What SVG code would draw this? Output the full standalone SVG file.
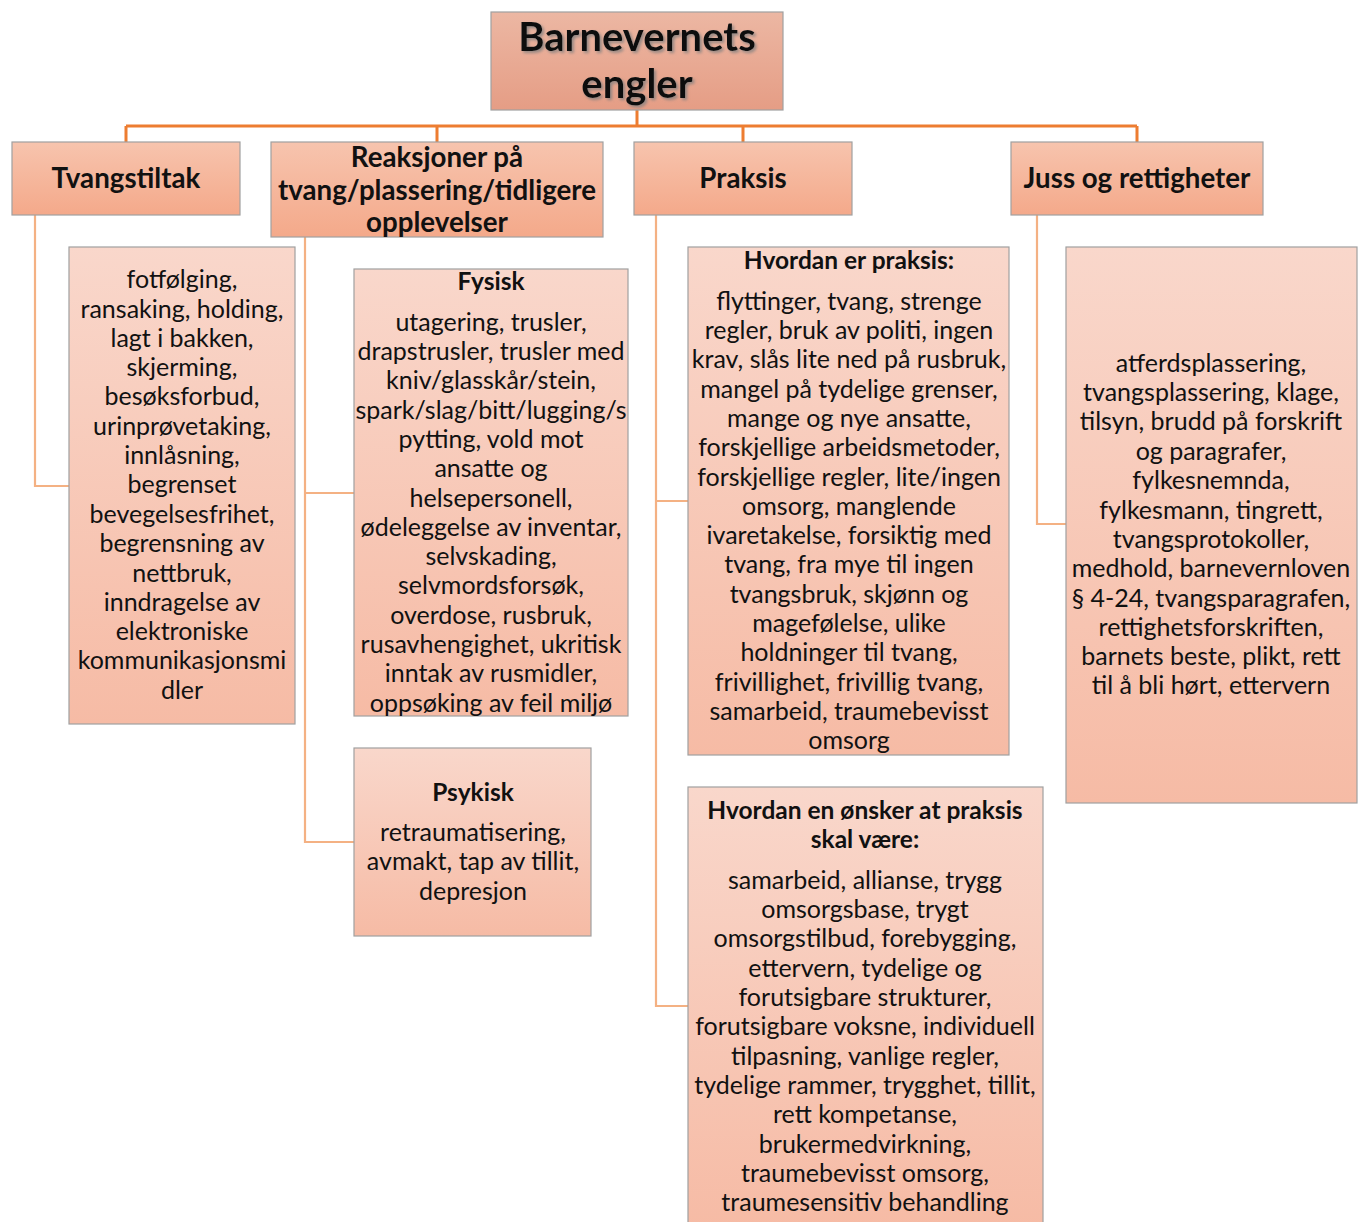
<svg xmlns="http://www.w3.org/2000/svg" width="1367" height="1222" viewBox="0 0 1367 1222">
<defs>
<linearGradient id="gRoot" x1="0" y1="0" x2="0" y2="1"><stop offset="0" stop-color="#ECB7A3"/><stop offset="1" stop-color="#E59D85"/></linearGradient>
<linearGradient id="gL1" x1="0" y1="0" x2="0" y2="1"><stop offset="0" stop-color="#F7C4AE"/><stop offset="1" stop-color="#F4A98A"/></linearGradient>
<linearGradient id="gL2" x1="0" y1="0" x2="0" y2="1"><stop offset="0" stop-color="#F9D7CB"/><stop offset="1" stop-color="#F6BBA5"/></linearGradient>
<filter id="tshadow" x="-10%" y="-20%" width="120%" height="150%"><feDropShadow dx="2" dy="2" stdDeviation="1.5" flood-color="#7f7f7f" flood-opacity="0.8"/></filter>
</defs>
<style>
text{font-family:Lato,"Open Sans","Liberation Sans",sans-serif;fill:#111;text-anchor:middle}
.box{stroke:#A0A0A0;stroke-width:1.2}
.root{fill:url(#gRoot)}
.l1{fill:url(#gL1)}
.l2{fill:url(#gL2)}
.tt{font-weight:bold;font-size:40px}
.h1{font-weight:bold;font-size:27.7px}
.h2{font-weight:bold;font-size:24.5px}
.b{font-size:25px}
.main{stroke:#ED7D31;stroke-width:3;fill:none}
.sub{stroke:#F4B183;stroke-width:2.2;fill:none}
</style>
<rect width="1367" height="1222" fill="#fff"/>
<g id="connectors">
<path class="main" d="M637 110V126M126 126H1137M126 126V142M437 126V142M743 126V142M1137 126V142"/>
<path class="sub" d="M35 215V486H69"/>
<path class="sub" d="M305 237V842H354M305 493H354"/>
<path class="sub" d="M656 215V1006H688M656 501H688"/>
<path class="sub" d="M1037 215V524H1066"/>
</g>
<g id="root">
<rect class="box root" x="491" y="12" width="292" height="98"/>
<g filter="url(#tshadow)">
<text class="tt" x="637" y="51">Barnevernets</text>
<text class="tt" x="637" y="98">engler</text>
</g>
</g>
<g id="tvangstiltak">
<rect class="box l1" x="12" y="142" width="228" height="73"/>
<text class="h1" x="126" y="188">Tvangstiltak</text>
</g>
<g id="reaksjoner">
<rect class="box l1" x="271" y="142" width="332" height="95"/>
<text class="h1" x="437" y="167">Reaksjoner på</text>
<text class="h1" x="437" y="200">tvang/plassering/tidligere</text>
<text class="h1" x="437" y="232">opplevelser</text>
</g>
<g id="praksis">
<rect class="box l1" x="634" y="142" width="218" height="73"/>
<text class="h1" x="743" y="188">Praksis</text>
</g>
<g id="juss">
<rect class="box l1" x="1011" y="142" width="252" height="73"/>
<text class="h1" x="1137" y="188">Juss og rettigheter</text>
</g>
<g id="tvang-liste">
<rect class="box l2" x="69" y="247" width="226" height="477"/>
<text class="b" x="182" y="288">fotfølging,</text>
<text class="b" x="182" y="318">ransaking, holding,</text>
<text class="b" x="182" y="347">lagt i bakken,</text>
<text class="b" x="182" y="376">skjerming,</text>
<text class="b" x="182" y="405">besøksforbud,</text>
<text class="b" x="182" y="435">urinprøvetaking,</text>
<text class="b" x="182" y="464">innlåsning,</text>
<text class="b" x="182" y="493">begrenset</text>
<text class="b" x="182" y="523">bevegelsesfrihet,</text>
<text class="b" x="182" y="552">begrensning av</text>
<text class="b" x="182" y="582">nettbruk,</text>
<text class="b" x="182" y="611">inndragelse av</text>
<text class="b" x="182" y="640">elektroniske</text>
<text class="b" x="182" y="669">kommunikasjonsmi</text>
<text class="b" x="182" y="699">dler</text>
</g>
<g id="fysisk">
<rect class="box l2" x="354" y="269" width="274" height="447"/>
<text class="h2" x="491" y="290">Fysisk</text>
<text class="b" x="491" y="331">utagering, trusler,</text>
<text class="b" x="491" y="360">drapstrusler, trusler med</text>
<text class="b" x="491" y="389">kniv/glasskår/stein,</text>
<text class="b" x="491" y="419">spark/slag/bitt/lugging/s</text>
<text class="b" x="491" y="448">pytting, vold mot</text>
<text class="b" x="491" y="477">ansatte og</text>
<text class="b" x="491" y="507">helsepersonell,</text>
<text class="b" x="491" y="536">ødeleggelse av inventar,</text>
<text class="b" x="491" y="565">selvskading,</text>
<text class="b" x="491" y="594">selvmordsforsøk,</text>
<text class="b" x="491" y="624">overdose, rusbruk,</text>
<text class="b" x="491" y="653">rusavhengighet, ukritisk</text>
<text class="b" x="491" y="682">inntak av rusmidler,</text>
<text class="b" x="491" y="712">oppsøking av feil miljø</text>
</g>
<g id="psykisk">
<rect class="box l2" x="354" y="748" width="237" height="188"/>
<text class="h2" x="473" y="801">Psykisk</text>
<text class="b" x="473" y="841">retraumatisering,</text>
<text class="b" x="473" y="870">avmakt, tap av  tillit,</text>
<text class="b" x="473" y="900">depresjon</text>
</g>
<g id="praksis-er">
<rect class="box l2" x="688" y="247" width="321" height="508"/>
<text class="h2" x="849" y="269">Hvordan er praksis:</text>
<text class="b" x="849" y="310">flyttinger, tvang, strenge</text>
<text class="b" x="849" y="339">regler, bruk av politi, ingen</text>
<text class="b" x="849" y="368">krav, slås lite ned på rusbruk,</text>
<text class="b" x="849" y="398">mangel på tydelige grenser,</text>
<text class="b" x="849" y="427">mange og nye ansatte,</text>
<text class="b" x="849" y="456">forskjellige arbeidsmetoder,</text>
<text class="b" x="849" y="486">forskjellige regler, lite/ingen</text>
<text class="b" x="849" y="515">omsorg, manglende</text>
<text class="b" x="849" y="544">ivaretakelse, forsiktig med</text>
<text class="b" x="849" y="573">tvang, fra mye til ingen</text>
<text class="b" x="849" y="603">tvangsbruk, skjønn og</text>
<text class="b" x="849" y="632">magefølelse, ulike</text>
<text class="b" x="849" y="661">holdninger til tvang,</text>
<text class="b" x="849" y="691">frivillighet, frivillig tvang,</text>
<text class="b" x="849" y="720">samarbeid, traumebevisst</text>
<text class="b" x="849" y="749">omsorg</text>
</g>
<g id="praksis-onsket">
<rect class="box l2" x="688" y="787" width="355" height="440"/>
<text class="h2" x="865" y="819">Hvordan en ønsker at praksis</text>
<text class="h2" x="865" y="848">skal være:</text>
<text class="b" x="865" y="889">samarbeid, allianse, trygg</text>
<text class="b" x="865" y="918">omsorgsbase, trygt</text>
<text class="b" x="865" y="947">omsorgstilbud, forebygging,</text>
<text class="b" x="865" y="977">ettervern, tydelige og</text>
<text class="b" x="865" y="1006">forutsigbare strukturer,</text>
<text class="b" x="865" y="1035">forutsigbare voksne, individuell</text>
<text class="b" x="865" y="1065">tilpasning, vanlige regler,</text>
<text class="b" x="865" y="1094">tydelige rammer, trygghet, tillit,</text>
<text class="b" x="865" y="1123">rett kompetanse,</text>
<text class="b" x="865" y="1153">brukermedvirkning,</text>
<text class="b" x="865" y="1182">traumebevisst omsorg,</text>
<text class="b" x="865" y="1211">traumesensitiv behandling</text>
</g>
<g id="juss-liste">
<rect class="box l2" x="1066" y="247" width="291" height="556"/>
<text class="b" x="1211" y="372">atferdsplassering,</text>
<text class="b" x="1211" y="401">tvangsplassering, klage,</text>
<text class="b" x="1211" y="430">tilsyn, brudd på forskrift</text>
<text class="b" x="1211" y="460">og paragrafer,</text>
<text class="b" x="1211" y="489">fylkesnemnda,</text>
<text class="b" x="1211" y="519">fylkesmann, tingrett,</text>
<text class="b" x="1211" y="548">tvangsprotokoller,</text>
<text class="b" x="1211" y="577">medhold, barnevernloven</text>
<text class="b" x="1211" y="607">§ 4-24, tvangsparagrafen,</text>
<text class="b" x="1211" y="636">rettighetsforskriften,</text>
<text class="b" x="1211" y="665">barnets beste, plikt, rett</text>
<text class="b" x="1211" y="694">til å bli hørt, ettervern</text>
</g>
</svg>
